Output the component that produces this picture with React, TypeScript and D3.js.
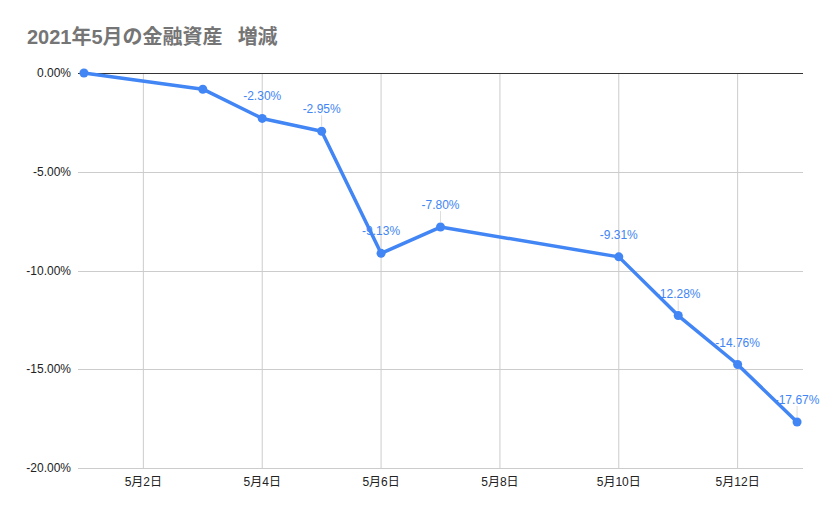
import React, { useEffect, useRef } from 'react';
import * as d3 from 'd3';

const days = [1, 3, 4, 5, 6, 7, 10, 11, 12, 13];
const values = [0, -0.82, -2.3, -2.95, -9.13, -7.8, -9.31, -12.28, -14.76, -17.67];
const showLabel = [false, false, true, true, true, true, true, true, true, true];
const xTicks = [2, 4, 6, 8, 10, 12];
const yTicks = [0, -5, -10, -15, -20];

const W = 829;
const H = 514;
const FONT = 'Arial, "Liberation Sans", "Noto Sans CJK JP", sans-serif';
const BLUE = '#4285f4';

// hyphen-minus like the sheet, not d3's unicode minus
const pct = (v: number) => (v < 0 ? '-' : '') + Math.abs(v).toFixed(2) + '%';

const App: React.FC = () => {
  const svgRef = useRef<SVGSVGElement>(null);

  useEffect(() => {
    if (!svgRef.current) return;
    const svg = d3.select(svgRef.current);
    svg.selectAll('*').remove();

    const left = 78, right = 803, top = 73, bottom = 468;

    const x = d3.scaleLinear().domain([0.9, 13.1]).range([left, right]);
    const y = d3.scaleLinear().domain([0, -20]).range([top, bottom]);

    svg.append('rect').attr('width', W).attr('height', H).attr('fill', '#fff');

    // title
    const title = svg.append('text')
      .attr('x', 27)
      .attr('y', 44)
      .attr('font-family', FONT)
      .attr('font-size', 20)
      .attr('font-weight', 'bold')
      .attr('fill', '#757575');
    title.append('tspan').text('2021年5月の金融資産');
    title.append('tspan').attr('dx', 15).text('増減');

    // vertical gridlines
    svg.append('g')
      .selectAll('line')
      .data(xTicks)
      .join('line')
      .attr('x1', d => x(d))
      .attr('x2', d => x(d))
      .attr('y1', top)
      .attr('y2', bottom)
      .attr('stroke', '#cccccc')
      .attr('stroke-width', 1);

    // horizontal gridlines
    svg.append('g')
      .selectAll('line')
      .data(yTicks)
      .join('line')
      .attr('x1', left)
      .attr('x2', right)
      .attr('y1', d => Math.round(y(d)) + 0.5)
      .attr('y2', d => Math.round(y(d)) + 0.5)
      .attr('stroke', d => (d === 0 ? '#333333' : '#cccccc'))
      .attr('stroke-width', 1);

    // y labels
    svg.append('g')
      .selectAll('text')
      .data(yTicks)
      .join('text')
      .attr('x', left - 7)
      .attr('y', d => y(d) + 4)
      .attr('text-anchor', 'end')
      .attr('font-family', FONT)
      .attr('font-size', 12)
      .attr('fill', '#222')
      .text(d => pct(d));

    // x labels
    svg.append('g')
      .selectAll('text')
      .data(xTicks)
      .join('text')
      .attr('x', d => x(d))
      .attr('y', bottom + 18)
      .attr('text-anchor', 'middle')
      .attr('font-family', FONT)
      .attr('font-size', 12)
      .attr('fill', '#222')
      .text(d => `5月${d}日`);

    const pts = days.map((d, i) => ({ d, v: values[i], show: showLabel[i] }));

    const line = d3.line<{ d: number; v: number }>()
      .x(p => x(p.d))
      .y(p => y(p.v));

    svg.append('path')
      .datum(pts)
      .attr('d', line)
      .attr('fill', 'none')
      .attr('stroke', BLUE)
      .attr('stroke-width', 3.5)
      .attr('stroke-linejoin', 'round');

    svg.append('g')
      .selectAll('circle')
      .data(pts)
      .join('circle')
      .attr('cx', p => x(p.d))
      .attr('cy', p => y(p.v))
      .attr('r', 4.5)
      .attr('fill', BLUE);

    const labeled = pts.filter(p => p.show);

    // leader lines
    svg.append('g')
      .selectAll('line')
      .data(labeled)
      .join('line')
      .attr('x1', p => x(p.d))
      .attr('x2', p => x(p.d))
      .attr('y1', p => y(p.v) - 16)
      .attr('y2', p => y(p.v) - 5)
      .attr('stroke', '#dddddd')
      .attr('stroke-width', 1);

    svg.append('g')
      .selectAll('text')
      .data(labeled)
      .join('text')
      .attr('x', p => x(p.d))
      .attr('y', p => y(p.v) - 18)
      .attr('text-anchor', 'middle')
      .attr('font-family', FONT)
      .attr('font-size', 12)
      .attr('fill', BLUE)
      .text(p => pct(p.v));
  }, []);

  return (
    <div style={{ position: 'absolute', left: 0, top: 0, width: W, height: H }}>
      <svg ref={svgRef} width={W} height={H} style={{ display: 'block' }} />
    </div>
  );
};

export default App;
